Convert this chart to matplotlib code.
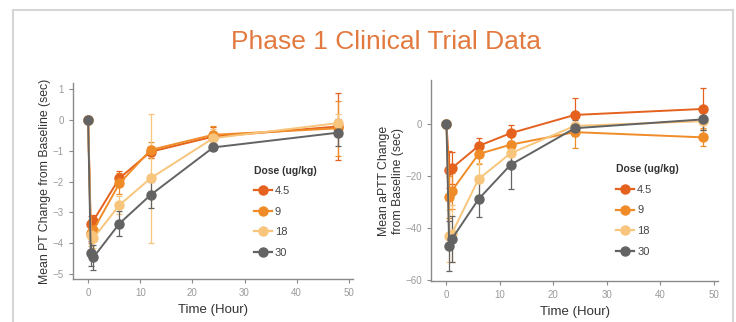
import matplotlib.pyplot as plt
from matplotlib.lines import Line2D

plt.rcParams["font.family"] = ["Liberation Sans", "DejaVu Sans"]

hours = [0, 0.5, 1, 6, 12, 24, 48]
doses = ["4.5", "9", "18", "30"]
colors = ["#E4611E", "#F08C28", "#F8C57C", "#636363"]

# PT change (sec)
pt_mean = {
    "4.5": [0, -3.38, -3.27, -1.89, -1.03, -0.54, -0.21],
    "9": [0, -3.68, -3.57, -2.06, -0.97, -0.48, -0.27],
    "18": [0, -3.73, -3.84, -2.76, -1.89, -0.59, -0.10],
    "30": [0, -4.33, -4.46, -3.36, -2.43, -0.89, -0.41],
}
pt_err = {
    "4.5": [0, 0.25, 0.2, 0.25, 0.2, 0.3, 1.1],
    "9": [0, 0.3, 0.25, 0.35, 0.25, 0.3, 0.9],
    "18": [0, 0.35, 0.3, 0.3, 2.1, 0.3, 0.3],
    "30": [0, 0.4, 0.4, 0.4, 0.43, 0.1, 0.45],
}

# aPTT change (sec)
aptt_mean = {
    "4.5": [0, -17.6, -17.0, -8.5, -3.6, 3.4, 5.7],
    "9": [0, -28.1, -25.7, -11.6, -8.0, -3.2, -5.2],
    "18": [0, -43.2, -42.1, -21.2, -11.3, -0.8, 1.0],
    "30": [0, -47.0, -44.2, -28.9, -15.7, -1.7, 1.7],
}
aptt_err = {
    "4.5": [0, 7, 6, 3, 3, 6.4, 8],
    "9": [0, 8, 7, 4, 3, 6, 3.5],
    "18": [0, 10, 11, 6, 4, 3, 3],
    "30": [0, 9.6, 9, 7, 9.2, 3, 4],
}

fig = plt.figure(figsize=(7.36, 3.22), dpi=100)
W, H = 736, 322

# slide frame
fig.add_artist(Line2D([13 / W, 13 / W], [0, 1 - 10 / H], color="#D6D6D6", lw=1.5))
fig.add_artist(Line2D([733 / W, 733 / W], [0, 1 - 10 / H], color="#D6D6D6", lw=1.5))
fig.add_artist(Line2D([13 / W, 733 / W], [1 - 10 / H, 1 - 10 / H], color="#D6D6D6", lw=1.5))

fig.text(386 / W, 1 - 42 / H, "Phase 1 Clinical Trial Data", ha="center", va="center",
         fontsize=19, color="#E27A3F")

ax1 = fig.add_axes([73 / W, 43 / H, 280 / W, 196 / H])
ax2 = fig.add_axes([431 / W, 41 / H, 287 / W, 201 / H])


def draw(ax, means, errs):
    handles = []
    for d, c in zip(doses, colors):
        ax.errorbar(hours, means[d], yerr=errs[d], color=c, lw=1.4, marker="o", ms=6.5,
                    elinewidth=0.9, capsize=2.5, capthick=0.9, zorder=3)
        handles.append(Line2D([], [], color=c, lw=1.6, marker="o", ms=6.5, label=d))
    for s in ["top", "right"]:
        ax.spines[s].set_visible(False)
    for s in ["left", "bottom"]:
        ax.spines[s].set_color("#8A8A8A")
        ax.spines[s].set_linewidth(1)
    ax.tick_params(colors="#8A8A8A", labelcolor="#9A9A9A", labelsize=7, length=3, width=0.8)
    ax.set_xlim(-2.9, 50.8)
    ax.set_xticks([0, 10, 20, 30, 40, 50])
    ax.set_xlabel("Time (Hour)", fontsize=9.5, color="#333333", labelpad=4)
    leg = ax.legend(handles=handles, loc="upper left", bbox_to_anchor=(0.61, 0.63),
                    frameon=False, title="Dose (ug/kg)", fontsize=8, handlelength=1.6,
                    labelspacing=0.95, handletextpad=0.3, alignment="left")
    leg.get_title().set_fontweight("bold")
    leg.get_title().set_fontsize(7.5)
    leg.get_title().set_color("#333333")
    for t in leg.get_texts():
        t.set_color("#444444")


draw(ax1, pt_mean, pt_err)
ax1.set_ylim(-5.16, 1.2)
ax1.set_yticks([1, 0, -1, -2, -3, -4, -5])
ax1.set_ylabel("Mean PT Change from Baseline (sec)", fontsize=8.8, color="#333333", labelpad=1)

draw(ax2, aptt_mean, aptt_err)
ax2.set_ylim(-60.3, 16.8)
ax2.set_yticks([0, -20, -40, -60])
ax2.set_ylabel("Mean aPTT Change\nfrom Baseline (sec)", fontsize=8.8, color="#333333", labelpad=1)

plt.savefig("out.png", dpi=100)
